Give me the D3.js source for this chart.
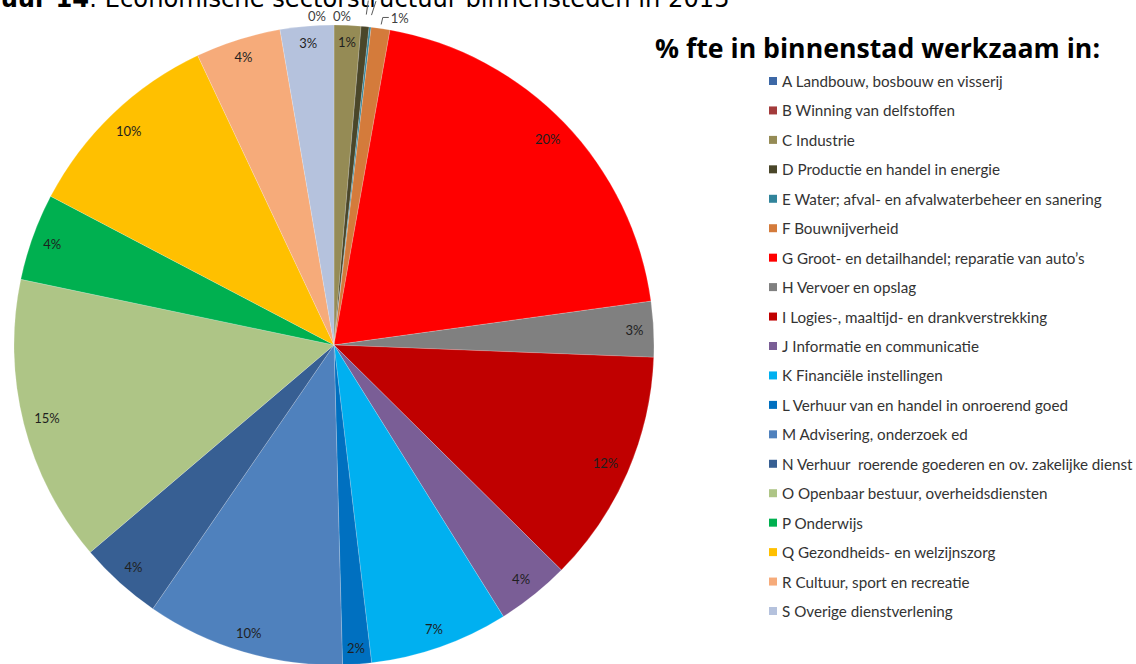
<!DOCTYPE html>
<html>
<head>
<meta charset="utf-8">
<script src="https://cdn.jsdelivr.net/npm/d3@7"></script>
<style>
  html, body { margin: 0; padding: 0; background: #ffffff; }
  svg { display: block; }
  text { white-space: pre; }
</style>
</head>
<body>
<svg id="chart" width="1136" height="664"></svg>
<script>
// ---------- data ----------
const chartTitleBold = "Figuur 14";
const chartTitleRest = ": Economische sectorstructuur binnensteden in 2015";
const legendTitle = "% fte in binnenstad werkzaam in:";

const categories = [
  "A Landbouw, bosbouw en visserij",
  "B Winning van delfstoffen",
  "C Industrie",
  "D Productie en handel in energie",
  "E Water; afval- en afvalwaterbeheer en sanering",
  "F Bouwnijverheid",
  "G Groot- en detailhandel; reparatie van auto’s",
  "H Vervoer en opslag",
  "I Logies-, maaltijd- en drankverstrekking",
  "J Informatie en communicatie",
  "K Financiële instellingen",
  "L Verhuur van en handel in onroerend goed",
  "M Advisering, onderzoek ed",
  "N Verhuur  roerende goederen en ov. zakelijke dienst",
  "O Openbaar bestuur, overheidsdiensten",
  "P Onderwijs",
  "Q Gezondheids- en welzijnszorg",
  "R Cultuur, sport en recreatie",
  "S Overige dienstverlening"
];
const values = [0, 0, 1.35, 0.4, 0.1, 0.95, 20.0, 2.8, 11.8, 3.7, 7.0, 1.45, 10.0, 4.2, 14.5, 4.4, 10.3, 4.3, 2.7];
const valueLabels = ["0%", "0%", "1%", "0%", "0%", "1%", "20%", "3%", "12%", "4%", "7%", "2%", "10%", "4%", "15%", "4%", "10%", "4%", "3%"];
const colors = [
  "#3d68a6", "#a33b3b", "#958b55", "#4a4629", "#31849b", "#d47b3b",
  "#ff0000", "#808080", "#c00000", "#7a5e96", "#00b0f0", "#0070c0",
  "#4f81bd", "#375f93", "#aec586", "#00b050", "#ffc000", "#f6ab7a", "#b5c2dd"
];
// slices whose label sits outside the pie (D and E labels lie hidden under the title)
const outsideIdx = [0, 1, 3, 4, 5];

// ---------- layout ----------
const svg = d3.select("#chart");
const cx = 334, cy = 345, R = 320;
const labelFont = "Lato, 'Open Sans', sans-serif";
const labelSize = 13;

const pie = d3.pie().sort(null).value(d => d).startAngle(0).endAngle(2 * Math.PI);
const arcs = pie(values);
const arcGen = d3.arc().innerRadius(0).outerRadius(R);

const gPie = svg.append("g").attr("transform", `translate(${cx},${cy})`);
gPie.selectAll("path.slice")
  .data(arcs)
  .join("path")
  .attr("class", "slice")
  .attr("d", arcGen)
  .attr("fill", (d, i) => colors[i])
  .attr("stroke", "#ffffff")
  .attr("stroke-opacity", 0.3)
  .attr("stroke-width", 0.6);

// inside-end labels
const inside = arcs.map((a, i) => ({ a, i })).filter(o => !outsideIdx.includes(o.i));
const lab = gPie.selectAll("text.in")
  .data(inside)
  .join("text")
  .attr("class", "in")
  .attr("font-family", labelFont)
  .attr("font-size", labelSize)
  .attr("fill", "#1f1f1f")
  .attr("text-anchor", "middle")
  .attr("dominant-baseline", "central")
  .text(o => valueLabels[o.i]);
lab.each(function(o) {
  const w = this.getComputedTextLength();
  const h = 12;
  const ang = (o.a.startAngle + o.a.endAngle) / 2;
  const ext = Math.abs(Math.sin(ang)) * w / 2 + Math.abs(Math.cos(ang)) * h / 2;
  const dist = R - 10 - ext;
  d3.select(this)
    .attr("x", dist * Math.sin(ang))
    .attr("y", -dist * Math.cos(ang));
});

// outside labels A,B (top, left of 12 o'clock)
const topY = -R;
[[0, -17], [1, 8]].forEach(([k, dx]) => {
  gPie.append("text").attr("font-family", labelFont).attr("font-size", labelSize).attr("fill", "#404040")
    .attr("text-anchor", "middle").attr("dominant-baseline", "central")
    .attr("x", dx).attr("y", topY - 9).text(valueLabels[k]);
});

// white band behind the title covers the top of the small labels
svg.append("rect")
  .attr("x", 0).attr("y", 0).attr("width", 760).attr("height", 10)
  .attr("fill", "#ffffff");

// ---------- title (partly cut off at the top) ----------
const titleFont = "'DejaVu Sans', Verdana, sans-serif";
const tTitle = svg.append("text")
  .attr("font-family", titleFont)
  .attr("y", 7)
  .attr("fill", "#000");
const tb = tTitle.append("tspan").attr("font-weight", "bold").text(chartTitleBold);
const tr = tTitle.append("tspan").attr("font-weight", "normal").text(chartTitleRest);
tTitle.attr("font-size", 20);
const restW = tr.node().getComputedTextLength();
const fs = 20 * 641 / restW;
tTitle.attr("font-size", fs);
const boldW = tb.node().getComputedTextLength();
tTitle.attr("x", 89 - boldW);

// leader lines (drawn on top)
const lead = svg.append("g").attr("transform", `translate(${cx},${cy})`)
  .attr("stroke", "#595959").attr("stroke-width", 1).attr("fill", "none");
[3, 4].forEach((k, j) => {
  const ang = (arcs[k].startAngle + arcs[k].endAngle) / 2;
  const x0 = (R + 12) * Math.sin(ang), y0 = -(R + 12) * Math.cos(ang);
  lead.append("line").attr("x1", x0).attr("y1", y0)
    .attr("x2", x0 + 2 + j * 2.5).attr("y2", y0 - 14);
});
{
  const k = 5;
  const ang = (arcs[k].startAngle + arcs[k].endAngle) / 2;
  const x0 = (R + 4) * Math.sin(ang), y0 = -(R + 4) * Math.cos(ang);
  const pts = [[x0, y0], [x0 + 1.6, y0 - 7], [x0 + 7.6, y0 - 7]];
  lead.append("path").attr("d", d3.line()(pts));
  svg.append("text").attr("font-family", labelFont).attr("font-size", labelSize).attr("fill", "#404040")
    .attr("dominant-baseline", "central")
    .attr("x", cx + x0 + 9.5).attr("y", cy + y0 - 6).text(valueLabels[k]);
}

// ---------- legend ----------
svg.append("text")
  .attr("x", 655).attr("y", 58)
  .attr("font-family", "'Open Sans', 'DejaVu Sans', sans-serif")
  .attr("font-weight", "bold")
  .attr("font-size", 26)
  .attr("fill", "#000")
  .attr("textLength", 445)
  .attr("lengthAdjust", "spacingAndGlyphs")
  .text(legendTitle);

const legendY = d3.scalePoint().domain(categories).range([81, 611]);
const items = svg.append("g").selectAll("g.item").data(categories).join("g")
  .attr("class", "item")
  .attr("transform", d => `translate(769,${legendY(d)})`);
items.append("rect").attr("x", 0).attr("y", -4).attr("width", 8).attr("height", 8)
  .attr("fill", (d, i) => colors[i]);
const itemText = items.append("text")
  .attr("x", 13).attr("y", 0)
  .attr("dominant-baseline", "central")
  .attr("font-family", labelFont)
  .attr("font-size", 14)
  .attr("fill", "#333333")
  .text(d => d);
// fit the longest line (N) to ~351 px
const nW = itemText.filter((d, i) => i === 13).node().getComputedTextLength();
itemText.attr("font-size", 14 * 351 / nW);
</script>
</body>
</html>
